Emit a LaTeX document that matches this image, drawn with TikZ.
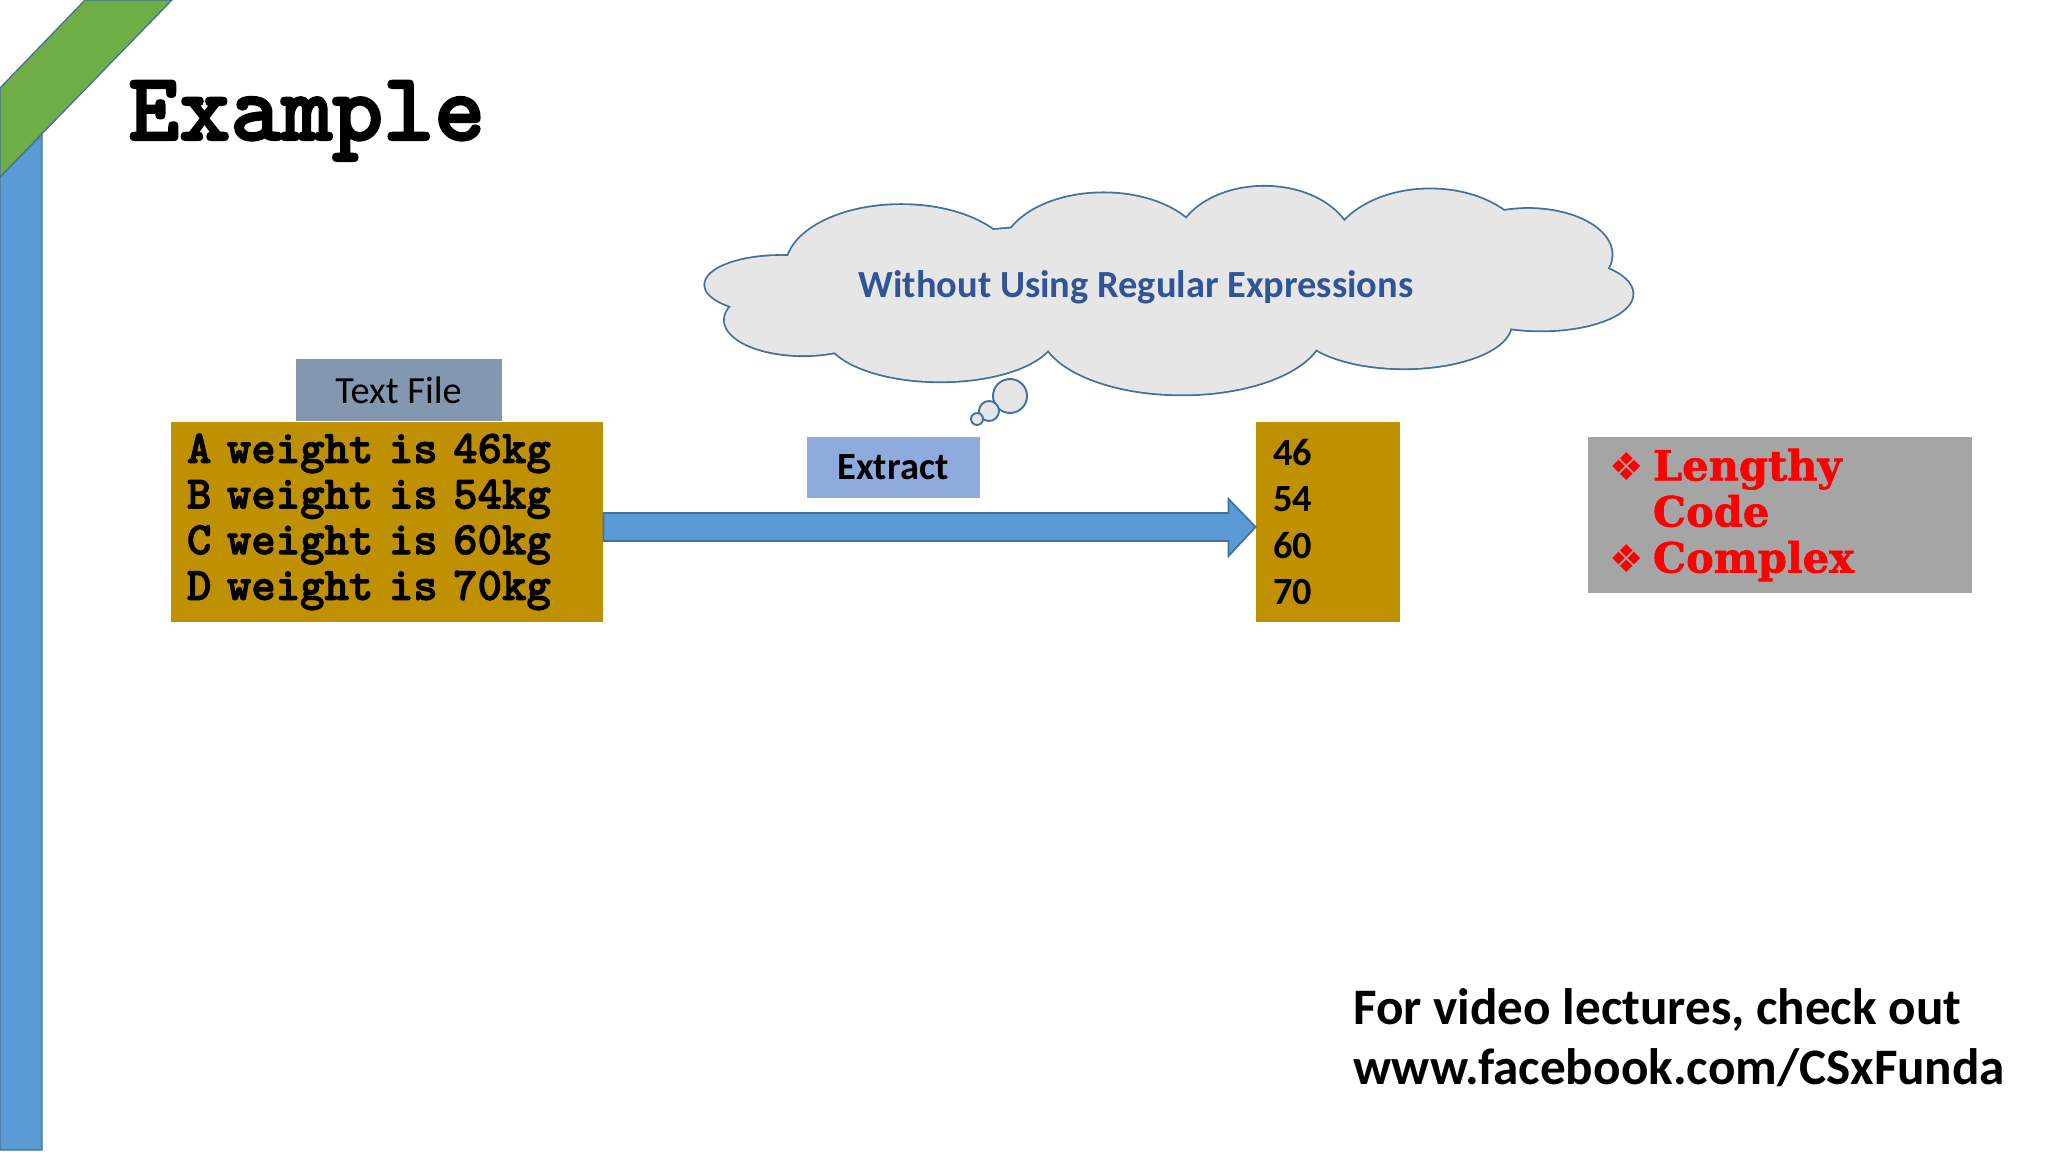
\documentclass[tikz,border=0pt]{standalone}
\usepackage{fontspec}
\setmainfont{Carlito}
\newfontfamily\codefnt{lmmonolt10-bold.otf}[FakeBold=2.2]
\newfontfamily\slabfnt{DejaVu Serif}[BoldFeatures={FakeBold=1.5}]
\newfontfamily\dingfnt{DejaVu Sans}
\usetikzlibrary{calc}

\definecolor{barblue}{HTML}{5B9BD5}
\definecolor{edgeblue}{HTML}{41719C}
\definecolor{leafgreen}{HTML}{70AD47}
\definecolor{gold}{HTML}{BF9000}
\definecolor{slate}{HTML}{8497B0}
\definecolor{paleblue}{HTML}{8FAADC}
\definecolor{cloudgray}{HTML}{E7E6E6}
\definecolor{inkblue}{HTML}{2F5597}
\definecolor{midgray}{HTML}{A5A5A5}
\definecolor{alertred}{HTML}{FF0000}

\newcommand{\pxu}{0.46875pt}
\newcommand{\dia}{{\dingfnt\fontsize{18}{18}\selectfont\char"2756}}

\tikzset{
  goldbox/.style={fill=gold, inner sep=0pt, align=left},
  tagbox/.style={inner sep=0pt, font=\fontsize{18}{18}\selectfont},
  bubble/.style={fill=cloudgray, draw=edgeblue, line width=0.9pt},
  bigarrow/.style={fill=barblue, draw=edgeblue, line width=0.8pt, line join=miter},
}

\begin{document}
\begin{tikzpicture}[x=0.46875pt,y=-0.46875pt]
\useasboundingbox (0,0) rectangle (2048,1152);
% corner ribbon
\filldraw[fill=barblue, draw=edgeblue, line width=0.6pt] (0,177) -- (42,134) -- (42,1150) -- (0,1150) -- cycle;
\filldraw[fill=leafgreen, draw=edgeblue, line width=0.6pt] (85,0) -- (172,0) -- (0,177) -- (0,88) -- cycle;
\node[anchor=base west, inner sep=0pt, font=\codefnt\fontsize{45.5}{45.5}\selectfont] (title) at (128,140) {Example};

% thought cloud, puffs given in slide units
\begin{scope}[x=0.6122pt,y=-0.6122pt]
\def\puffs{690/205/88/48, 845/195/78/47, 968/190/68/47, 1095/198/78/53, 1170/195/64/35, 1180/225/70/28,
  1075/248/82/34, 905/252/108/50, 720/255/88/37, 615/245/60/27, 598/218/58/22, 895/220/280/50}
\foreach \cx/\cy/\rx/\ry in \puffs
  \filldraw[fill=cloudgray, draw=edgeblue, line width=1.7pt] (\cx,\cy) ellipse ({\rx} and {\ry});
\foreach \cx/\cy/\rx/\ry in \puffs
  \fill[cloudgray] (\cx,\cy) ellipse ({\rx} and {\ry});
\end{scope}
\node[anchor=base, inner sep=0pt, text=inkblue, font=\bfseries\fontsize{18}{18}\selectfont] (thinktxt) at (1136,298) {Without Using Regular Expressions};
\draw[bubble] (1010,396) circle (17);
\draw[bubble] (989,411) circle (10);
\draw[bubble] (977,419) circle (6);

% input file
\node[goldbox, minimum width=432*\pxu, minimum height=200*\pxu, text width=400*\pxu,
  font=\codefnt\fontsize{21.8}{21.4}\selectfont] (txt) at (387,522)
  {A weight is 46kg\\B weight is 54kg\\C weight is 60kg\\D weight is 70kg};
\node[tagbox, fill=slate, minimum width=206*\pxu, minimum height=62*\pxu, anchor=south] (tag) at ($(txt.north west)+(228,0)$) {Text File};

% extracted values
\node[goldbox, minimum width=144*\pxu, minimum height=200*\pxu, text width=110*\pxu,
  font=\bfseries\fontsize{18}{21.6}\selectfont] (num) at (1328,522)
  {46\\54\\60\\70};
\draw[bigarrow] ($(txt.east)+(0,-9)$) -- ($(num.west)+(-27,-9)$) -- ($(num.west)+(-27,-23)$) -- ($(num.west)+(0,5)$)
  -- ($(num.west)+(-27,34)$) -- ($(num.west)+(-27,19)$) -- ($(txt.east)+(0,19)$) -- cycle;
\node[tagbox, fill=paleblue, minimum width=173*\pxu, minimum height=61*\pxu, font=\bfseries\fontsize{18}{18}\selectfont] (extract) at (893,467) {Extract};

% drawbacks
\node[fill=midgray, inner sep=0pt, minimum width=384*\pxu, minimum height=156*\pxu, text width=342*\pxu, align=left,
  text=alertred, font=\slabfnt\bfseries\fontsize{19.5}{21.6}\selectfont] (cons) at (1780,515)
  {\makebox[20.6pt][l]{\dia}Lengthy\\\hspace*{20.6pt}Code\\\makebox[20.6pt][l]{\dia}Complex};

% footer
\node[anchor=base west, inner sep=0pt, align=left, font=\bfseries\fontsize{24}{27.7}\selectfont] (footer) at (1353,1084)
  {For video lectures, check out\\www.facebook.com/CSxFunda};
\end{tikzpicture}
\end{document}
